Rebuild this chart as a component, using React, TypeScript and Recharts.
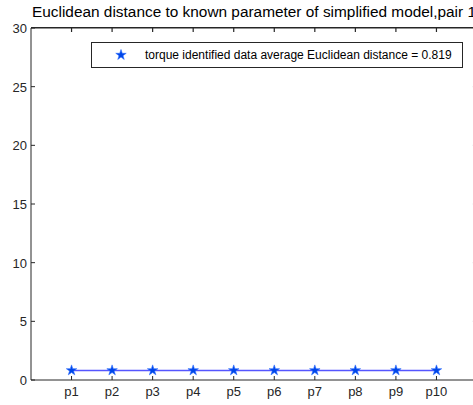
import React from 'react';
import { ComposedChart, Line, XAxis, YAxis, Symbols, ReferenceLine } from 'recharts';

const categories = ['p1', 'p2', 'p3', 'p4', 'p5', 'p6', 'p7', 'p8', 'p9', 'p10'];
const distances = [0.819, 0.819, 0.819, 0.819, 0.819, 0.819, 0.819, 0.819, 0.819, 0.819];
const yTicks = [0, 5, 10, 15, 20, 25, 30];
const xTicks = [1, 2, 3, 4, 5, 6, 7, 8, 9, 10];

const data = categories.map((name, i) => ({ x: i + 1, name, value: distances[i] }));

const FONT = '"Liberation Sans", Arial, Helvetica, sans-serif';
const AXIS = '#262626';
const X_MAX = 11;
const Y_MAX = 30;

const BottomTick = (props: any) => {
  const { x, y, payload } = props;
  return (
    <g>
      <line x1={x} y1={y} x2={x} y2={y - 4} stroke={AXIS} />
      <text x={x} y={y + 16} textAnchor="middle" fontSize={13} fontFamily={FONT} fill={AXIS}>
        {categories[payload.value - 1]}
      </text>
    </g>
  );
};

const LeftTick = (props: any) => {
  const { x, y, payload } = props;
  return (
    <g>
      <line x1={x} y1={y} x2={x + 4} y2={y} stroke={AXIS} />
      <text x={x - 4} y={y + 5} textAnchor="end" fontSize={13} fontFamily={FONT} fill={AXIS}>
        {payload.value}
      </text>
    </g>
  );
};

const StarDot = (props: any) => {
  const { cx, cy, index } = props;
  return <Symbols key={`star-${index}`} type="star" size={34} cx={cx} cy={cy} fill="#0046e8" stroke="#2a6cff" strokeWidth={0.6} />;
};

export default function App() {
  return (
    <div style={{ position: 'absolute', left: 0, top: 0, width: 473, height: 405, overflow: 'hidden', background: '#fff' }}>
      <ComposedChart width={490} height={405} data={data} margin={{ top: 28, right: 13, bottom: 0, left: 0 }}>
        <XAxis
          dataKey="x"
          type="number"
          domain={[0, X_MAX]}
          ticks={xTicks}
          tick={<BottomTick />}
          tickLine={false}
          tickSize={0}
          tickMargin={0}
          height={25}
          axisLine={{ stroke: AXIS }}
        />
        <YAxis
          type="number"
          domain={[0, Y_MAX]}
          ticks={yTicks}
          tick={<LeftTick />}
          tickLine={false}
          tickSize={0}
          tickMargin={0}
          width={31}
          axisLine={{ stroke: AXIS }}
        />
        {/* box frame: top and right edges with inward ticks */}
        <ReferenceLine y={Y_MAX} stroke="#262626" strokeWidth={1.2} />
        <ReferenceLine x={X_MAX} stroke="#262626" strokeWidth={1.2} />
        {xTicks.map((t) => (
          <ReferenceLine
            key={`tt-${t}`}
            segment={[
              { x: t, y: Y_MAX },
              { x: t, y: Y_MAX - 0.34 },
            ]}
            stroke="#262626"
            strokeWidth={1.2}
          />
        ))}
        {yTicks.map((t) => (
          <ReferenceLine
            key={`rt-${t}`}
            segment={[
              { x: X_MAX - 0.1, y: t },
              { x: X_MAX, y: t },
            ]}
            stroke="#262626"
            strokeWidth={1.2}
          />
        ))}
        <Line
          dataKey="value"
          stroke="#5656ff"
          strokeWidth={1.5}
          dot={<StarDot />}
          activeDot={false}
          isAnimationActive={false}
        />
      </ComposedChart>
      {/* fallback top edge drawn above the chart */}
      <div
        style={{
          position: 'absolute',
          left: 31,
          top: 27,
          width: 446,
          height: 0,
          borderTop: `1px solid ${AXIS}`,
          zIndex: 2,
          pointerEvents: 'none',
        }}
      />
      <div
        style={{
          position: 'absolute',
          left: 32,
          top: 3,
          whiteSpace: 'nowrap',
          fontFamily: FONT,
          fontSize: 15.4,
          lineHeight: '18px',
          color: '#000',
          zIndex: 3,
        }}
      >
        Euclidean distance to known parameter of simplified model,pair 1
      </div>
      <div
        style={{
          position: 'absolute',
          left: 91,
          top: 42,
          width: 370,
          height: 24,
          border: '1px solid #262626',
          background: '#fff',
          display: 'flex',
          alignItems: 'center',
          fontFamily: FONT,
          fontSize: 12,
          color: '#000',
          zIndex: 3,
        }}
      >
        <svg width={50} height={24}>
          <Symbols type="star" size={34} cx={29} cy={12} fill="#0046e8" stroke="#2a6cff" strokeWidth={0.6} />
        </svg>
        <span style={{ marginLeft: 3 }}>torque identified data average Euclidean distance = 0.819</span>
      </div>
    </div>
  );
}
